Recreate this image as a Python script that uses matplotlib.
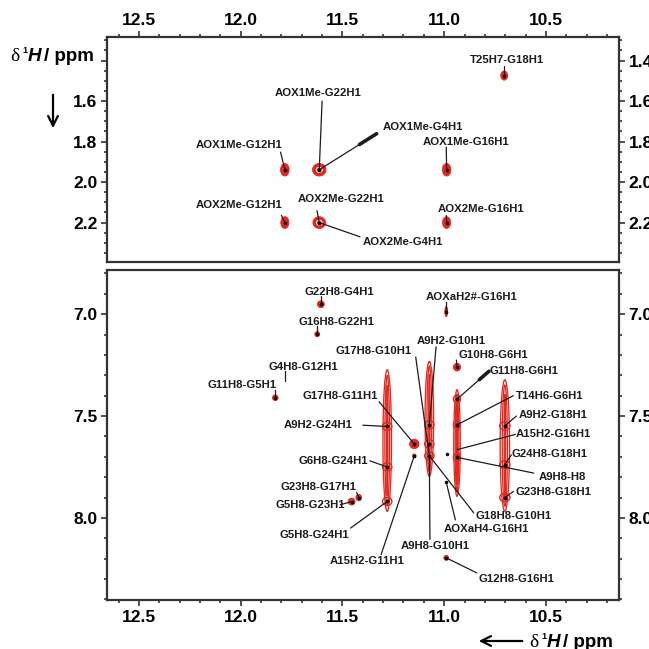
import numpy as np
from matplotlib import pyplot as plt
from matplotlib.patches import Ellipse
from matplotlib.ticker import MultipleLocator

plt.rcParams['font.family'] = ['Liberation Sans', 'DejaVu Sans']
plt.rcParams['font.weight'] = 'bold'

RED = '#e3281e'
INK = '#1c1c1c'

# ---- data: cross peaks (ppm), upper panel (methyl region)
top_names = ['T25H7-G18H1', 'AOX1Me-G22H1', 'AOX1Me-G4H1', 'AOX1Me-G12H1', 'AOX1Me-G16H1',
             'AOX2Me-G12H1', 'AOX2Me-G22H1', 'AOX2Me-G4H1', 'AOX2Me-G16H1']
top_px = [10.705, 11.614, 11.614, 11.783, 10.988, 11.783, 11.614, 11.614, 10.988]
top_py = [1.474, 1.939, 1.939, 1.939, 1.939, 2.200, 2.200, 2.200, 2.200]

# ---- data: cross peaks (ppm), lower panel (aromatic region)
bot_names = ['G22H8-G4H1', 'G16H8-G22H1', 'G4H8-G12H1', 'G11H8-G5H1', 'AOXaH2#-G16H1',
             'A9H2-G10H1', 'G17H8-G10H1', 'G10H8-G6H1', 'G11H8-G6H1', 'G17H8-G11H1',
             'T14H6-G6H1', 'A9H2-G24H1', 'A9H2-G18H1', 'A15H2-G16H1', 'G24H8-G18H1',
             'G6H8-G24H1', 'A9H8-H8', 'G23H8-G18H1', 'G23H8-G17H1', 'G5H8-G23H1',
             'G18H8-G10H1', 'AOXaH4-G16H1', 'G5H8-G24H1', 'A9H8-G10H1', 'A15H2-G11H1',
             'G12H8-G16H1']
bot_px = [11.606, 11.624, 11.780, 11.830, 10.990,
          11.073, 11.073, 10.937, 10.937, 11.147,
          10.937, 11.280, 10.702, 10.937, 10.702,
          11.280, 10.937, 10.702, 11.420, 11.455,
          11.073, 10.990, 11.280, 11.073, 11.147,
          10.990]
bot_py = [6.951, 7.098, 7.330, 7.410, 6.987,
          7.543, 7.695, 7.260, 7.417, 7.637,
          7.543, 7.551, 7.548, 7.665, 7.739,
          7.750, 7.703, 7.900, 7.900, 7.920,
          7.695, 7.825, 7.919, 7.695, 7.695,
          8.196]

# elongated (t1-noise) ridges: x, start, end
ridge_x = [11.280, 11.073, 10.937, 10.702]
ridge_y0 = [7.273, 7.232, 7.371, 7.322]
ridge_y1 = [7.968, 7.796, 7.894, 7.968]

# ---- layout: label centre and leader start, same order as names
top_lab = [(10.69, 1.397, 10.705, 1.425), (11.619, 1.562, 11.600, 1.600),
           (11.103, 1.728, 11.332, 1.761), (12.007, 1.819, 11.804, 1.852),
           (10.89, 1.800, 10.990, 1.827), (12.007, 2.114, 11.800, 2.164),
           (11.504, 2.082, 11.625, 2.141), (11.205, 2.296, 11.414, 2.270),
           (10.82, 2.131, 10.990, 2.165)]
bot_lab = [(11.516, 6.889, 11.606, 6.910), (11.527, 7.036, 11.624, 7.058),
           (11.690, 7.257, 11.780, 7.280), (11.994, 7.347, 11.830, 7.370),
           (10.865, 6.914, 10.990, 6.940), (10.967, 7.130, 11.040, 7.160),
           (11.345, 7.183, 11.140, 7.210), (10.759, 7.200, 10.940, 7.225),
           (10.610, 7.280, 10.780, 7.280), (11.510, 7.400, 11.320, 7.430),
           (10.480, 7.400, 10.660, 7.400), (11.620, 7.546, 11.400, 7.545),
           (10.464, 7.497, 10.645, 7.500), (10.464, 7.590, 10.650, 7.590),
           (10.480, 7.686, 10.670, 7.690), (11.543, 7.720, 11.365, 7.720),
           (10.420, 7.800, 10.560, 7.780), (10.464, 7.873, 10.660, 7.870),
           (11.617, 7.848, 11.430, 7.875), (11.658, 7.938, 11.510, 7.935),
           (10.661, 7.992, 10.855, 7.975), (10.790, 8.054, 10.945, 8.010),
           (11.640, 8.082, 11.460, 8.050), (11.046, 8.139, 11.070, 8.106),
           (11.380, 8.213, 11.310, 8.180), (10.643, 8.302, 10.840, 8.270)]
wedge_labels = ['AOX1Me-G4H1', 'G11H8-G6H1']

# isolated peak blobs: (x, y, width, height)
top_blobs = [(10.705, 1.474, 0.034, 0.045), (11.614, 1.939, 0.066, 0.062),
             (11.783, 1.939, 0.042, 0.062), (10.988, 1.939, 0.042, 0.062),
             (11.783, 2.200, 0.040, 0.058), (11.614, 2.200, 0.062, 0.058),
             (10.988, 2.200, 0.040, 0.058)]
bot_blobs = [(11.606, 6.951, 0.034, 0.034), (11.624, 7.098, 0.024, 0.026),
             (11.830, 7.410, 0.028, 0.028), (10.990, 6.987, 0.014, 0.05),
             (10.937, 7.260, 0.036, 0.038), (11.147, 7.637, 0.046, 0.046),
             (11.147, 7.695, 0.018, 0.018), (11.420, 7.900, 0.028, 0.032),
             (11.455, 7.920, 0.034, 0.034), (10.990, 8.196, 0.024, 0.024)]
# local maxima on the ridges
ridge_dots = [(11.280, 7.551), (11.280, 7.750), (11.280, 7.919),
              (11.073, 7.543), (11.073, 7.637), (11.073, 7.695),
              (10.937, 7.417), (10.937, 7.543), (10.937, 7.703),
              (10.702, 7.548), (10.702, 7.739), (10.702, 7.900)]
ridge_w = [0.042, 0.042, 0.032, 0.046]

W, H = 649, 649
fig = plt.figure(figsize=(6.49, 6.49), dpi=100)
ax1 = fig.add_axes([107 / W, 1 - 262.3 / H, 512 / W, 225 / H])
ax2 = fig.add_axes([107 / W, 1 - 600 / H, 512 / W, 330 / H])

ax1.set_xlim(12.657, 10.141)
ax1.set_ylim(2.396, 1.285)
ax2.set_xlim(12.657, 10.141)
ax2.set_ylim(8.403, 6.783)

for ax in (ax1, ax2):
    for s in ax.spines.values():
        s.set_linewidth(1.6)
        s.set_color('#333333')
    ax.xaxis.set_major_locator(MultipleLocator(0.5))
    ax.xaxis.set_minor_locator(MultipleLocator(0.1))
    ax.tick_params(which='both', direction='out', width=1.2, color='#333333',
                   labelsize=12.5, pad=3, left=True, right=True,
                   labelleft=True, labelright=True)
    ax.tick_params(which='major', length=4)
    ax.tick_params(which='minor', length=2.5)

ax1.set_yticks([1.4, 1.6, 1.8, 2.0, 2.2])
ax1.yaxis.set_minor_locator(MultipleLocator(0.05))
ax1.yaxis.set_major_formatter('{x:.1f}')
ax1.tick_params(which='both', top=True, bottom=False, labeltop=True, labelbottom=False)
ax1.yaxis.get_major_ticks()[0].label1.set_visible(False)

ax2.set_yticks([7.0, 7.5, 8.0])
ax2.yaxis.set_minor_locator(MultipleLocator(0.1))
ax2.yaxis.set_major_formatter('{x:.1f}')
ax2.tick_params(which='both', top=False, bottom=True, labeltop=False, labelbottom=True)
for ax in (ax1, ax2):
    ax.xaxis.set_major_formatter('{x:.1f}')
    for lab in ax.get_xticklabels(which='both') + ax.get_yticklabels(which='both'):
        lab.set_fontweight('bold')


def blob(ax, x, y, w, h):
    ax.add_patch(Ellipse((x, y), w, h, facecolor=RED, edgecolor=RED, lw=0.6, zorder=2))
    if w > 0.05:
        ax.add_patch(Ellipse((x, y), w * 0.45, h * 0.4, facecolor='none',
                             edgecolor='white', lw=0.7, zorder=3))
    ax.plot(x, y, 'o', ms=1.6, color='black', zorder=4)


for b in top_blobs:
    blob(ax1, *b)
for b in bot_blobs:
    blob(ax2, *b)

# ridges as nested contour outlines
for x, y0, y1, w in zip(ridge_x, ridge_y0, ridge_y1, ridge_w):
    yc, L = (y0 + y1) / 2, y1 - y0
    for f_len, f_w in [(1.0, 1.0), (0.92, 0.55), (0.78, 0.15)]:
        ax2.add_patch(Ellipse((x, yc), w * f_w, L * f_len, facecolor='none',
                              edgecolor=RED, lw=0.95, zorder=2))
for x, y in ridge_dots:
    w = ridge_w[ridge_x.index(x)]
    ax2.add_patch(Ellipse((x, y), w * 1.1, 0.04, facecolor='none', edgecolor=RED, lw=1.0, zorder=2))
    ax2.plot(x, y, 'o', ms=1.8, color='black', zorder=4)

# weak single points
ax2.plot([10.988, 10.990], [7.686, 7.825], 'o', ms=1.5, color='black', zorder=4)


def annotate(ax, names, px, py, lay):
    for name, x, y, (tx, ty, lx, ly) in zip(names, px, py, lay):
        ax.plot([lx, x], [ly, y], color=INK, lw=0.9, zorder=3, solid_capstyle='round')
        if name in wedge_labels:
            fx = lx + (x - lx) * 0.3
            fy = ly + (y - ly) * 0.3
            ax.plot([lx, fx], [ly, fy], color=INK, lw=2.6, zorder=3, solid_capstyle='round')
        ax.text(tx, ty, name, ha='center', va='center', fontsize=8.2, fontweight='bold',
                color=INK, zorder=5)


annotate(ax1, top_names, top_px, top_py, top_lab)
annotate(ax2, bot_names, bot_px, bot_py, bot_lab)


def axis_title(x0, yb):
    # δ ¹H / ppm built from pieces (pixel coordinates from the top-left)
    fig.text(x0 / W, 1 - yb / H, 'δ', family='Liberation Serif', fontsize=14,
             fontweight='normal', va='baseline', ha='left')
    fig.text((x0 + 12) / W, 1 - (yb - 8) / H, '1', fontsize=6.5, fontweight='bold',
             va='baseline', ha='left')
    fig.text((x0 + 18) / W, 1 - yb / H, 'H', fontsize=13.5, fontweight='bold',
             fontstyle='italic', va='baseline', ha='left')
    fig.text((x0 + 34) / W, 1 - yb / H, '/ ppm', fontsize=13.5, fontweight='bold',
             va='baseline', ha='left')


axis_title(10, 61)
axis_title(529, 647)

ax1.annotate('', xy=(53 / W, 1 - 131 / H), xytext=(53 / W, 1 - 92 / H),
             xycoords='figure fraction', textcoords='figure fraction', annotation_clip=False,
             arrowprops=dict(arrowstyle='->,head_length=0.7,head_width=0.35', lw=1.6, color='black'))
ax1.annotate('', xy=(476 / W, 1 - 641 / H), xytext=(525 / W, 1 - 641 / H),
             xycoords='figure fraction', textcoords='figure fraction', annotation_clip=False,
             arrowprops=dict(arrowstyle='->,head_length=0.7,head_width=0.35', lw=1.6, color='black'))

fig.savefig('out.png', dpi=100)
